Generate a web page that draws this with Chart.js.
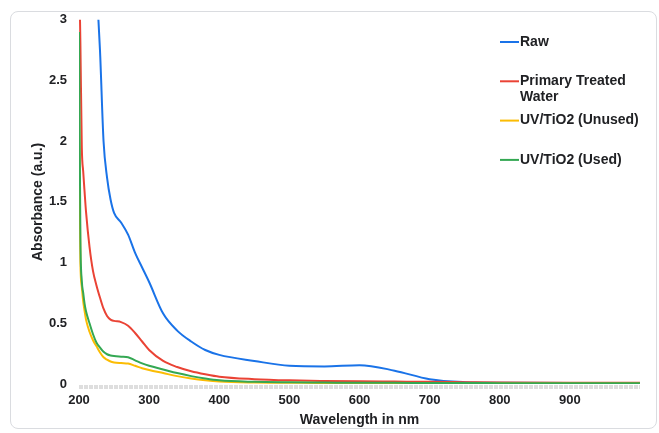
<!DOCTYPE html>
<html>
<head>
<meta charset="utf-8">
<script src="https://cdn.jsdelivr.net/npm/chart.js@4.4.1/dist/chart.umd.min.js"></script>
<style>
  html, body { margin: 0; padding: 0; background: #fff; }
  #wrap { position: relative; width: 659px; height: 433px; }
  #card {
    position: absolute; left: 10px; top: 11px; width: 647px; height: 418px;
    border: 1px solid #dadce0; border-radius: 8px; box-sizing: border-box;
  }
  #chart { position: absolute; left: 0; top: 0; }
</style>
</head>
<body>
<div id="wrap">
  <div id="card"></div>
  <canvas id="chart" width="659" height="433"></canvas>
</div>
<script>
// wavelength grid (nm) shared by all series
const wavelengths = [200, 202, 204, 206, 208, 210, 215, 220, 225, 230, 235, 240, 245, 250,
  260, 270, 280, 290, 300, 320, 340, 360, 380, 400, 450, 500, 550, 600, 650, 700, 750, 800, 900, 1000];

// absorbance (a.u.); null = off-scale / not shown
const rawVals = [null, null, null, null, null, null, null, 4.0, 3.3, 2.74, 2.0, 1.7, 1.52, 1.41,
  1.33, 1.23, 1.08, 0.96, 0.84, 0.58, 0.44, 0.35, 0.28, 0.24, 0.19, 0.15, 0.145, 0.155, 0.11, 0.04, 0.015, 0.01, 0.008, 0.008];
const primaryVals = [3.5, 2.8, 1.95, 1.75, 1.58, 1.42, 1.13, 0.93, 0.81, 0.71, 0.62, 0.56, 0.53, 0.52,
  0.51, 0.48, 0.42, 0.35, 0.28, 0.19, 0.14, 0.105, 0.08, 0.06, 0.04, 0.03, 0.025, 0.022, 0.02, 0.018, 0.015, 0.012, 0.01, 0.01];
const unusedVals = [2.3, 1.0, 0.8, 0.68, 0.6, 0.53, 0.43, 0.36, 0.31, 0.26, 0.22, 0.2, 0.185, 0.178,
  0.172, 0.168, 0.15, 0.13, 0.115, 0.09, 0.065, 0.045, 0.03, 0.02, 0.012, 0.01, 0.008, 0.007, 0.006, 0.005, 0.005, 0.005, 0.005, 0.005];
const usedVals = [2.9, 1.2, 0.85, 0.75, 0.66, 0.6, 0.5, 0.41, 0.34, 0.3, 0.265, 0.245, 0.235, 0.23,
  0.225, 0.22, 0.195, 0.17, 0.15, 0.12, 0.09, 0.065, 0.045, 0.03, 0.018, 0.014, 0.012, 0.01, 0.01, 0.008, 0.008, 0.007, 0.006, 0.006];

const seriesNames = ["Raw", "Primary Treated Water", "UV/TiO2 (Unused)", "UV/TiO2 (Used)"];
const seriesColors = ["#1a73e8", "#ea4335", "#fbbc04", "#34a853"];
const xTicks = [200, 300, 400, 500, 600, 700, 800, 900];

const FONT = "'Liberation Sans', Arial, sans-serif";

function toPoints(vals) {
  return wavelengths.map((w, i) => ({ x: w, y: vals[i] }));
}

// dashed light-grey band under the plot, like the source's axis line
const baseBand = {
  id: "baseBand",
  beforeDatasetsDraw(chart) {
    const { ctx, chartArea } = chart;
    ctx.save();
    ctx.strokeStyle = "#dedede";
    ctx.lineWidth = 4;
    ctx.setLineDash([4, 1]);
    ctx.beginPath();
    ctx.moveTo(chartArea.left, chartArea.bottom + 3);
    ctx.lineTo(chartArea.right, chartArea.bottom + 3);
    ctx.stroke();
    ctx.restore();
  },
};

// legend drawn inside the plot on the right, with word wrapping
const sideLegend = {
  id: "sideLegend",
  afterDraw(chart) {
    const ctx = chart.ctx;
    const x0 = 500, lineLen = 19, textX = 520, maxW = 126, top = 42, step = 39.3, lh = 16;
    ctx.save();
    ctx.font = "bold 14px " + FONT;
    ctx.textBaseline = "middle";
    seriesNames.forEach((name, i) => {
      const y = top + i * step;
      ctx.strokeStyle = seriesColors[i];
      ctx.lineWidth = 2;
      ctx.beginPath();
      ctx.moveTo(x0, y);
      ctx.lineTo(x0 + lineLen, y);
      ctx.stroke();
      // greedy wrap
      const words = name.split(" ");
      const lines = [];
      let cur = "";
      words.forEach(w => {
        const t = cur ? cur + " " + w : w;
        if (ctx.measureText(t).width > maxW && cur) { lines.push(cur); cur = w; } else cur = t;
      });
      if (cur) lines.push(cur);
      ctx.fillStyle = "#202124";
      lines.forEach((ln, k) => ctx.fillText(ln, textX, y + k * lh));
    });
    ctx.restore();
  },
};

const seriesVals = [rawVals, primaryVals, unusedVals, usedVals];

new Chart(document.getElementById("chart"), {
  type: "line",
  data: {
    datasets: seriesVals.map((vals, i) => ({
      label: seriesNames[i],
      data: toPoints(vals),
      borderColor: seriesColors[i],
      backgroundColor: seriesColors[i],
      borderWidth: 2,
      pointRadius: 0,
      cubicInterpolationMode: "monotone",
      fill: false,
      order: seriesVals.length - 1 - i, // later series painted on top
    })),
  },
  options: {
    responsive: false,
    animation: false,
    layout: { padding: { left: 0, top: 18, right: 19, bottom: 0 } },
    plugins: { legend: { display: false }, tooltip: { enabled: false } },
    scales: {
      x: {
        type: "linear",
        min: 200,
        max: 1000,
        afterBuildTicks: s => { s.ticks = xTicks.map(v => ({ value: v })); },
        afterFit: s => { s.height = 49; },
        ticks: { color: "#202124", font: { family: FONT, size: 13, weight: "bold" }, padding: 9, maxRotation: 0 },
        grid: { display: false, drawTicks: false },
        border: { display: false },
        title: {
          display: true, text: "Wavelength in nm", color: "#202124",
          font: { family: FONT, size: 14, weight: "bold" }, padding: { top: 0, bottom: 4 },
        },
      },
      y: {
        min: 0,
        max: 3,
        ticks: {
          stepSize: 0.5, color: "#202124", font: { family: FONT, size: 13, weight: "bold" }, padding: 12,
          callback: v => String(v),
        },
        afterFit: s => { s.width = 79; },
        grid: { display: false, drawTicks: false },
        border: { display: false },
        title: {
          display: true, text: "Absorbance (a.u.)", color: "#202124",
          font: { family: FONT, size: 14, weight: "bold" }, padding: { top: 30, bottom: 0 },
        },
      },
    },
  },
  plugins: [baseBand, sideLegend],
});
</script>
</body>
</html>
